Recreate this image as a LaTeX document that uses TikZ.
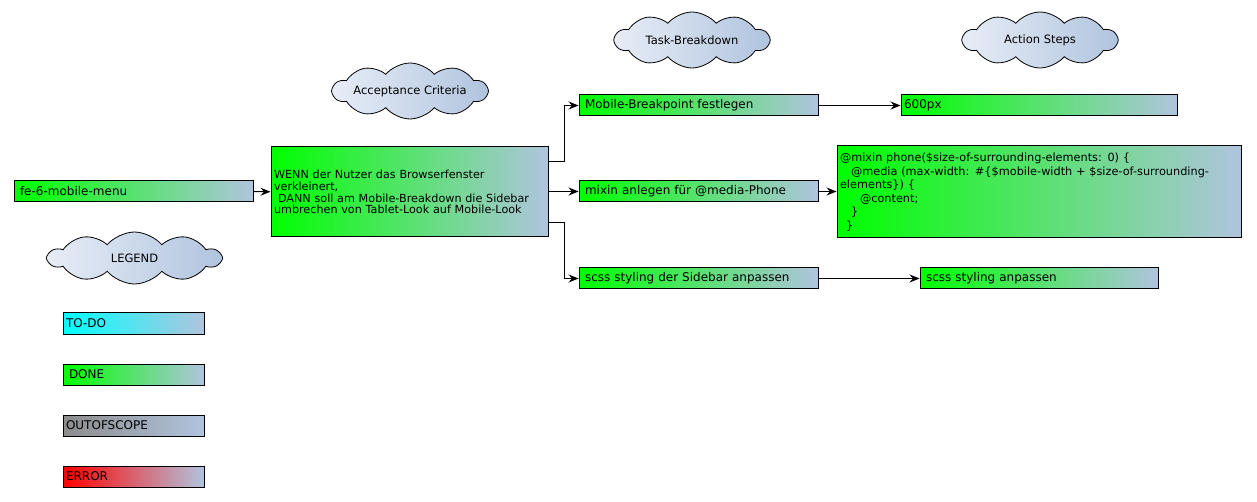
\documentclass[tikz,border=0pt]{standalone}
\usepackage{fontspec}
\setmainfont{DejaVu Sans}
\usetikzlibrary{arrows.meta,calc,shapes.symbols}
\definecolor{DoneClr}{RGB}{0,255,0}
\definecolor{TodoClr}{RGB}{0,255,255}
\definecolor{ScopeClr}{RGB}{140,140,140}
\definecolor{ErrClr}{RGB}{255,0,0}
\definecolor{EndClr}{RGB}{176,196,222}
\definecolor{CloudClr}{RGB}{232,237,247}

\begin{document}
\begin{tikzpicture}[x=1pt,y=-1pt,
  card/.style={draw, line width=1pt, left color=DoneClr, right color=EndClr,
    minimum height=21pt, inner xsep=3pt, inner ysep=0pt, align=left,
    font=\fontsize{12}{12}\selectfont, text width=#1},
  head/.style={cloud, cloud puffs=10, cloud puff arc=100, cloud ignores aspect,
    draw, line width=0.8pt, left color=CloudClr, right color=EndClr,
    minimum width=154pt, minimum height=56pt, inner sep=0pt,
    font=\fontsize{11.5}{12}\selectfont},
  conn/.style={-{Stealth[length=10pt,width=8pt,inset=3.5pt]}, line width=1pt}]
\useasboundingbox (0,0) rectangle (1257,502);

% headings
\node[head] (hCrit) at (410,91) {Acceptance Criteria};
\node[head] (hTask) at (692,40) {Task-Breakdown};
\node[head] (hStep) at (1040,40) {Action Steps};
\node[head, minimum width=172pt, minimum height=52pt] (hLeg) at (134.5,258) {LEGEND};

% story and criteria
\node[card=233pt] (story) at (133.5,191.5) {\hspace*{3pt}fe-6-mobile-menu};
\node[card=271pt, minimum height=90pt, font=\fontsize{11.2}{11.8}\selectfont] (crit) at (409.5,192)
  {WENN der Nutzer das Browserfenster\\verkleinert,\\
   \hspace*{4pt}DANN soll am Mobile-Breakdown die Sidebar\\
   umbrechen von Tablet-Look auf Mobile-Look};

% tasks
\node[card=233pt] (bp) at (698.5,105.5) {\hspace*{3pt}Mobile-Breakpoint festlegen};
\node[card=233pt] (mix) at (698.5,191.5) {\hspace*{3pt}mixin anlegen für @media-Phone};
\node[card=233pt] (side) at (698.5,278.5) {\hspace*{3pt}scss styling der Sidebar anpassen};

% steps
\node[card=270pt] (px) at (1039,105.5) {600px};
\node[card=398pt, minimum height=92pt, font=\fontsize{11.3}{13.5}\selectfont] (code) at (1039,192)
  {@mixin phone(\$size-of-surrounding-elements: 0) \{\\
   \hspace*{11pt}@media (max-width: \#\{\$mobile-width + \$size-of-surrounding-\\
   elements\}) \{\\
   \hspace*{20pt}@content;\\
   \hspace*{11pt}\}\\
   \hspace*{6pt}\}};
\node[card=232pt] (style) at (1039,278.5) {\hspace*{3pt}scss styling anpassen};

% legend
\node[card=135pt, left color=TodoClr] (todo) at (133.5,323.5) {TO-DO};
\node[card=135pt] (done) at (133.5,374.5) {\hspace*{3pt}DONE};
\node[card=135pt, left color=ScopeClr] (oos) at (133.5,425.5) {OUTOFSCOPE};
\node[card=135pt, left color=ErrClr] (err) at (133.5,476.5) {ERROR};

% connectors
\draw[conn] (story) -- (crit);
\draw[conn] ([yshift=-15pt]crit.north east) -- ++(16,0) |- (bp);
\draw[conn] (crit.east |- mix) -- (mix);
\draw[conn] ([yshift=15pt]crit.south east) -- ++(16,0) |- (side);
\draw[conn] (bp) -- (px);
\draw[conn] (mix) -- (code.west |- mix);
\draw[conn] (side) -- (style);

\end{tikzpicture}
\end{document}
